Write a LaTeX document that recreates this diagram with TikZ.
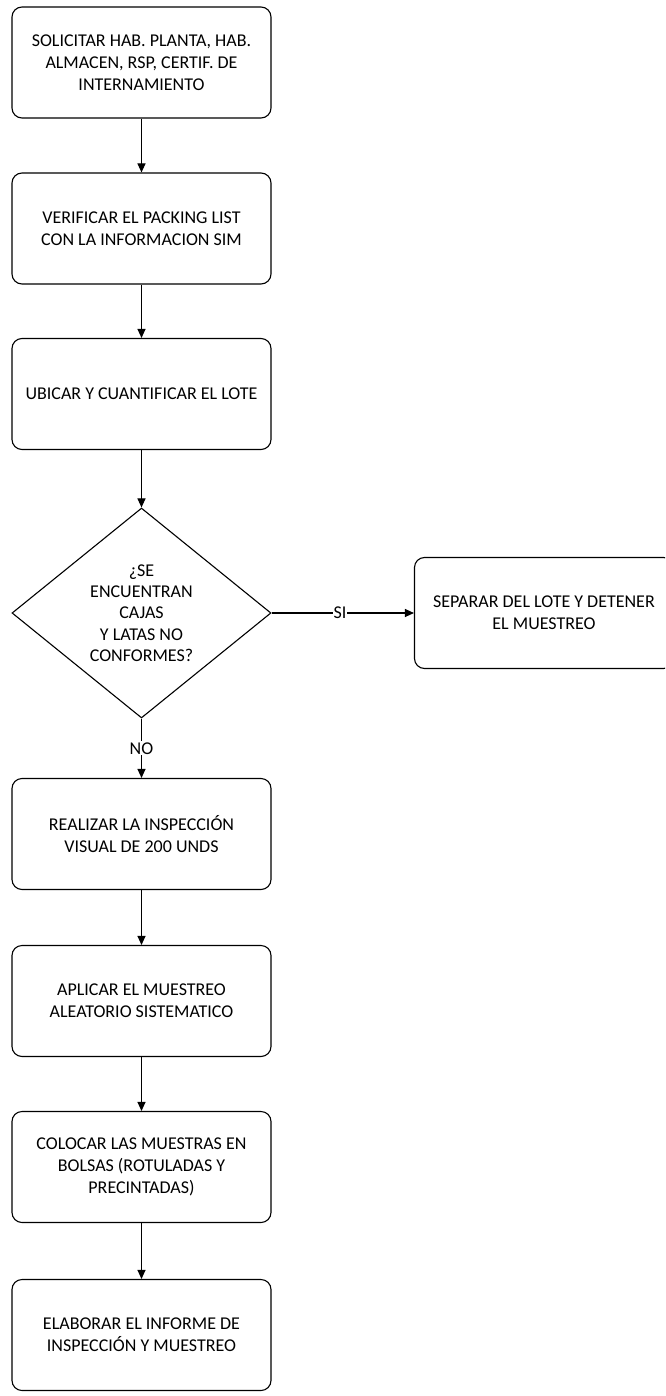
\documentclass[tikz,border=0pt]{standalone}
\usepackage{fontspec}
\setmainfont{Carlito}
\usetikzlibrary{shapes.geometric,arrows.meta}
\begin{document}
\begin{tikzpicture}[x=1pt,y=-1pt,
  box/.style={draw, line width=1.1pt, rounded corners=10pt, minimum width=259pt, minimum height=111pt, align=center, inner sep=2pt, font=\fontsize{18}{22}\selectfont},
  dec/.style={draw, line width=1.1pt, shape=diamond, aspect=1.23, minimum width=259pt, minimum height=210pt, align=center, inner sep=0pt, font=\fontsize{18}{21.3}\selectfont},
  arr/.style={line width=1.1pt, -{Triangle[length=9pt,width=8pt]}},
  lbl/.style={fill=white, inner sep=1pt, font=\fontsize{18}{20}\selectfont}
]
\clip (0,0) rectangle (665,1396);
\useasboundingbox (0,0) rectangle (665,1396);
\node[box] (b1) at (141.5,62.5) {SOLICITAR HAB. PLANTA, HAB.\\ALMACEN, RSP, CERTIF. DE\\INTERNAMIENTO};
\node[box] (b2) at (141.5,228.5) {VERIFICAR EL PACKING LIST\\CON LA INFORMACION SIM};
\node[box] (b3) at (141.5,394) {UBICAR Y CUANTIFICAR EL LOTE};
\node[dec] (d) at (141.5,613) {¿SE\\ENCUENTRAN\\CAJAS\\ Y LATAS NO\\CONFORMES?};
\node[box] (r) at (544,613) {SEPARAR DEL LOTE Y DETENER\\EL MUESTREO};
\node[box] (b4) at (141.5,834) {REALIZAR LA INSPECCIÓN\\VISUAL DE 200 UNDS};
\node[box] (b5) at (141.5,1001) {APLICAR EL MUESTREO\\ALEATORIO SISTEMATICO};
\node[box] (b6) at (141.5,1167) {COLOCAR LAS MUESTRAS EN\\BOLSAS (ROTULADAS Y\\PRECINTADAS)};
\node[box] (b7) at (141.5,1335) {ELABORAR EL INFORME DE\\INSPECCIÓN Y MUESTREO};
\draw[arr] (b1) -- (b2);
\draw[arr] (b2) -- (b3);
\draw[arr] (b3) -- (d);
\draw[arr] (d.east) -- node[lbl, pos=0.48] {SI} (r.west);
\draw[arr] (d.south) -- node[lbl, pos=0.5] {NO} (b4.north);
\draw[arr] (b4) -- (b5);
\draw[arr] (b5) -- (b6);
\draw[arr] (b6) -- (b7);
\end{tikzpicture}
\end{document}
